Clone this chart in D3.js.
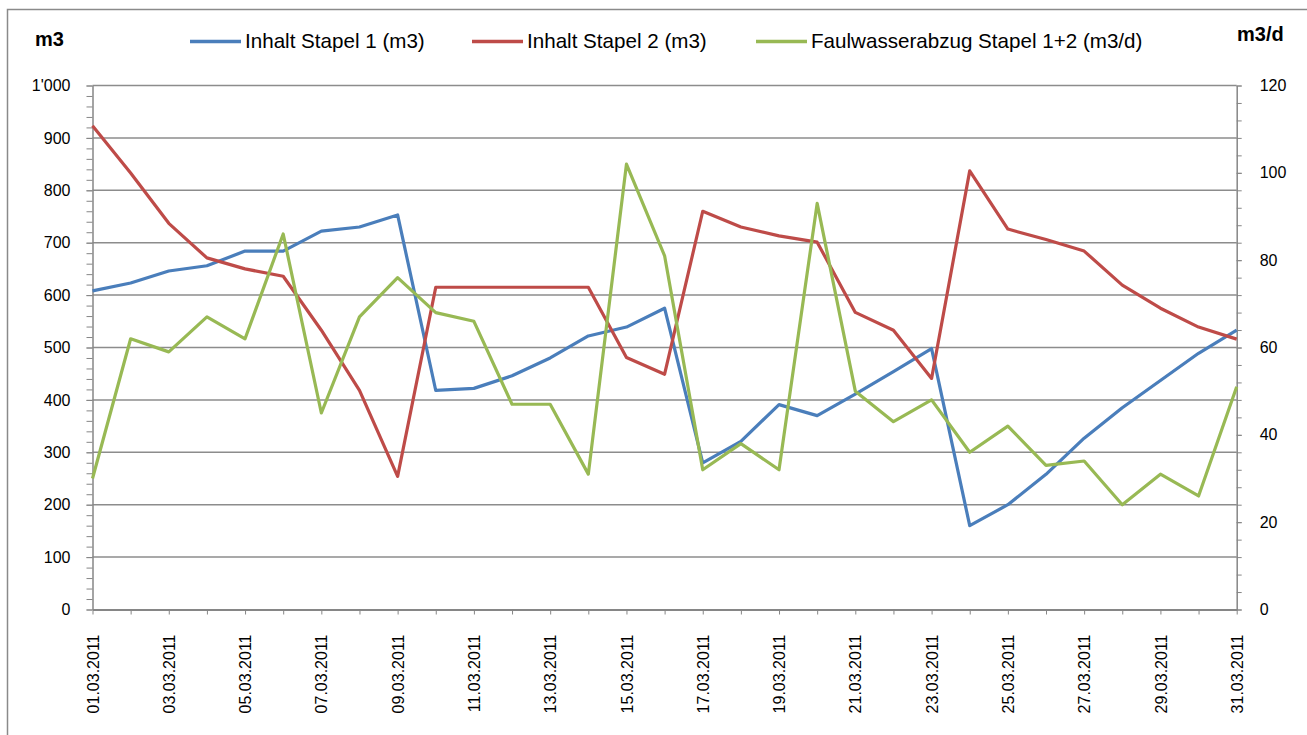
<!DOCTYPE html>
<html>
<head>
<meta charset="utf-8">
<script src="https://cdn.jsdelivr.net/npm/d3@7"></script>
<style>
  body { margin: 0; background: #fff; }
  svg { display: block; font-family: "Liberation Sans", Arial, sans-serif; }
  .axis path, .axis line { stroke: #868686; }
  .axis text { fill: #000; font-size: 16px; }
</style>
</head>
<body>
<svg id="svg"></svg>
<script>
// data, March 2011
const days = d3.range(1, 32).map(d => String(d).padStart(2, "0") + ".03.2011");
const stapel1 = [608, 623, 646, 656, 684, 684, 722, 730, 753, 418, 422, 446, 480, 522, 539, 575,
                 280, 321, 391, 370, 411, 454, 498, 160, 200, 258, 327, 385, 437, 489, 533];
const stapel2 = [923, 833, 737, 671, 650, 636, 533, 418, 254, 615, 615, 615, 615, 615, 481, 449,
                 760, 730, 713, 701, 567, 533, 441, 837, 726, 706, 684, 619, 575, 539, 516];
const faulwasser = [30, 62, 59, 67, 62, 86, 45, 67, 76, 68, 66, 47, 47, 31, 102, 81,
                    32, 38, 32, 93, 50, 43, 48, 36, 42, 33, 34, 24, 31, 26, 51];
const leftTicks = d3.range(0, 1001, 100);
const rightTicks = d3.range(0, 121, 20);
const seriesNames = ["Inhalt Stapel 1 (m3)", "Inhalt Stapel 2 (m3)", "Faulwasserabzug Stapel 1+2 (m3/d)"];
const seriesColors = ["#4a7ebb", "#be4b48", "#98b954"];

const width = 1307;
const height = 735;
const svg = d3.select("#svg").attr("width", width).attr("height", height);

// outer frame of the chart area
svg.append("rect")
    .attr("x", 7.5).attr("y", 9.5)
    .attr("width", width + 10).attr("height", height + 10)
    .attr("fill", "none")
    .attr("stroke", "#8a8a8a")
    .attr("stroke-width", 1.5);

const x = d3.scalePoint().domain(days).range([92.5, 1236.7]);
const yLeft = d3.scaleLinear().domain([0, 1000]).range([609.5, 85.5]);
const yRight = d3.scaleLinear().domain([0, 120]).range([609.5, 85.5]);

const swiss = d3.formatLocale({ decimal: ".", thousands: "'", grouping: [3], currency: ["", ""] });
const fmt = swiss.format(",");

// gridlines
svg.append("g")
    .selectAll("line")
    .data(leftTicks.filter(d => d > 0))
    .join("line")
    .attr("x1", x.range()[0]).attr("x2", x.range()[1])
    .attr("y1", d => yLeft(d)).attr("y2", d => yLeft(d))
    .attr("stroke", "#8c8c8c")
    .attr("stroke-width", 1.5);

// left axis: minor ticks then labelled majors
svg.append("g")
    .attr("class", "axis")
    .attr("transform", `translate(${x.range()[0]},0)`)
    .call(d3.axisLeft(yLeft).tickValues(d3.range(0, 1001, 20)).tickSize(6).tickFormat("").tickSizeOuter(0))
    .call(g => g.select(".domain").attr("stroke-width", 1.5));
svg.append("g")
    .attr("class", "axis")
    .attr("transform", `translate(${x.range()[0]},0)`)
    .call(d3.axisLeft(yLeft).tickValues(leftTicks).tickSize(6).tickPadding(16).tickFormat(fmt).tickSizeOuter(0))
    .call(g => g.select(".domain").remove());

// right axis
svg.append("g")
    .attr("class", "axis")
    .attr("transform", `translate(${x.range()[1]},0)`)
    .call(d3.axisRight(yRight).tickValues(d3.range(0, 121, 4)).tickSize(5).tickFormat("").tickSizeOuter(0))
    .call(g => g.select(".domain").attr("stroke-width", 1.5));
svg.append("g")
    .attr("class", "axis")
    .attr("transform", `translate(${x.range()[1]},0)`)
    .call(d3.axisRight(yRight).tickValues(rightTicks).tickSize(5).tickPadding(18).tickSizeOuter(0))
    .call(g => g.select(".domain").remove());

// bottom axis, label every other day
svg.append("g")
    .attr("class", "axis")
    .attr("transform", `translate(0,${yLeft(0)})`)
    .call(d3.axisBottom(x).tickSize(5).tickSizeOuter(0)
        .tickFormat((d, i) => i % 2 === 0 ? d : ""))
    .call(g => g.select(".domain").attr("stroke-width", 2))
    .call(g => g.selectAll("text")
        .attr("transform", "rotate(-90)")
        .attr("text-anchor", "end")
        .attr("x", -25)
        .attr("y", 0)
        .attr("dy", "0.35em")
        .attr("dx", 0)
        .style("font-size", "16px"));

// lines
const lineLeft = d3.line().x((d, i) => x(days[i])).y(d => yLeft(d));
const lineRight = d3.line().x((d, i) => x(days[i])).y(d => yRight(d));

svg.append("path").datum(stapel1)
    .attr("d", lineLeft).attr("fill", "none")
    .attr("stroke", seriesColors[0]).attr("stroke-width", 3.2).attr("stroke-linejoin", "round");
svg.append("path").datum(stapel2)
    .attr("d", lineLeft).attr("fill", "none")
    .attr("stroke", seriesColors[1]).attr("stroke-width", 3.2).attr("stroke-linejoin", "round");
svg.append("path").datum(faulwasser)
    .attr("d", lineRight).attr("fill", "none")
    .attr("stroke", seriesColors[2]).attr("stroke-width", 3.2).attr("stroke-linejoin", "round");

// axis titles
svg.append("text").attr("x", 35).attr("y", 46)
    .style("font-size", "20px").style("font-weight", "bold").text("m3");
svg.append("text").attr("x", 1237).attr("y", 41)
    .style("font-size", "20px").style("font-weight", "bold").text("m3/d");

// legend
const legendX = [190, 472, 756];
const legend = svg.append("g");
seriesNames.forEach((name, i) => {
    legend.append("line")
        .attr("x1", legendX[i]).attr("x2", legendX[i] + 51)
        .attr("y1", 41.5).attr("y2", 41.5)
        .attr("stroke", seriesColors[i]).attr("stroke-width", 3.5);
    legend.append("text")
        .attr("x", legendX[i] + 55).attr("y", 48)
        .style("font-size", "20.6px")
        .text(name);
});
</script>
</body>
</html>
